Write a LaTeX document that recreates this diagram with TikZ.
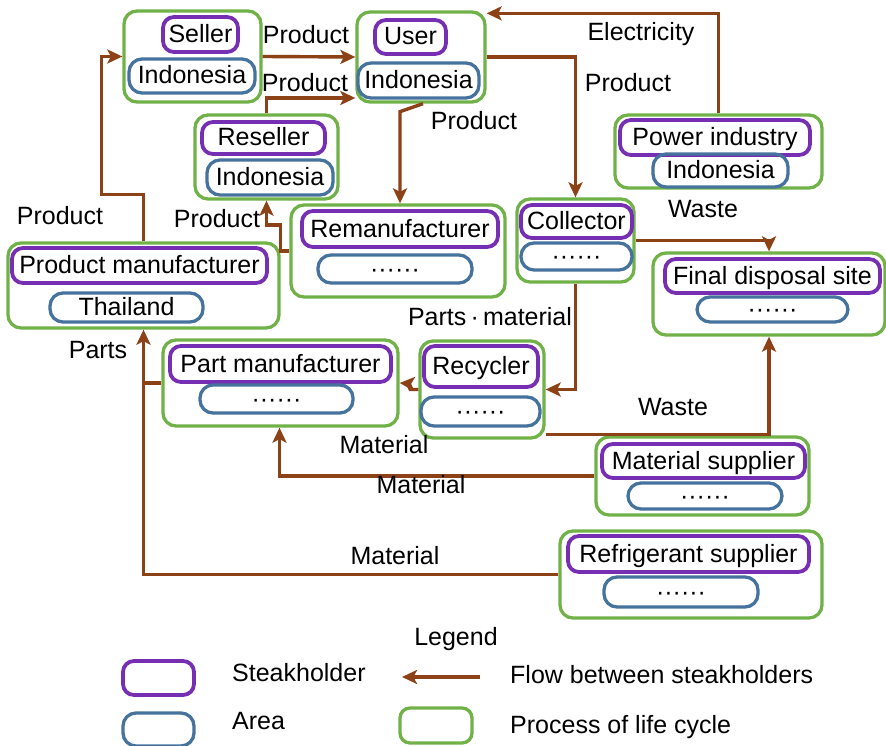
\documentclass[tikz,border=0pt]{standalone}
\usepackage{fontspec}
\setmainfont{Liberation Sans}
\usetikzlibrary{arrows.meta,calc}

\definecolor{procgreen}{RGB}{112,178,72}
\definecolor{stakepurple}{RGB}{118,46,178}
\definecolor{areablue}{RGB}{70,114,158}
\definecolor{flowbrown}{RGB}{140,66,22}

\newcommand\sixdots{\textperiodcentered\textperiodcentered\textperiodcentered\textperiodcentered\textperiodcentered\textperiodcentered}

\begin{document}
\begin{tikzpicture}[x=1pt,y=-1pt,
  every node/.style={font=\fontsize{25}{30}\selectfont},
  proc/.style={draw=procgreen,line width=3.3pt,rounded corners=13pt,inner sep=0pt},
  stake/.style={draw=stakepurple,line width=3.8pt,rounded corners=11pt,inner sep=0pt,text height=18pt,text depth=2pt},
  area/.style={draw=areablue,line width=3.3pt,rounded corners=13pt,inner sep=0pt,text height=18pt,text depth=2pt},
  flow/.style={draw=flowbrown,line width=3.4pt,-{Stealth[length=15pt,width=14pt,inset=3.5pt]}},
  flowline/.style={draw=flowbrown,line width=3.4pt},
  lbl/.style={inner sep=0pt,text height=18pt,text depth=2pt}
]
\useasboundingbox (0,0) rectangle (886,746);

% ---- life-cycle processes (green frames)
\node[proc,minimum width=137pt,minimum height=91pt] (seller)   at (192.5,56.5) {};
\node[proc,minimum width=128pt,minimum height=90pt] (user)     at (421,57) {};
\node[proc,minimum width=143pt,minimum height=84pt] (reseller) at (266.5,157) {};
\node[proc,minimum width=271pt,minimum height=85pt] (pm)       at (143.5,285.5) {};
\node[proc,minimum width=214pt,minimum height=92pt] (reman)    at (398,251) {};
\node[proc,minimum width=117pt,minimum height=83pt] (coll)     at (575.5,240.5) {};
\node[proc,minimum width=207pt,minimum height=73pt] (power)    at (718.5,151.5) {};
\node[proc,minimum width=232pt,minimum height=82pt] (final)    at (769,294) {};
\node[proc,minimum width=235pt,minimum height=86pt] (partm)    at (280.5,383) {};
\node[proc,minimum width=124pt,minimum height=97pt] (recyc)    at (482,389.5) {};
\node[proc,minimum width=213pt,minimum height=78pt] (matsup)   at (702.5,476) {};
\node[proc,minimum width=262pt,minimum height=87pt] (refsup)   at (691,574.5) {};

% ---- stakeholders (purple)
\node[stake,minimum width=75pt, minimum height=35pt] (sSeller)   at (200.5,34.5) {Seller};
\node[stake,minimum width=71pt, minimum height=34pt] (sUser)     at (410.5,37) {User};
\node[stake,minimum width=123pt,minimum height=32pt] (sReseller) at (263.5,138) {Reseller};
\node[stake,minimum width=255pt,minimum height=35pt] (sPm)       at (139.5,265.5) {Product manufacturer};
\node[stake,minimum width=196pt,minimum height=36pt] (sReman)    at (400,229) {Remanufacturer};
\node[stake,minimum width=111pt,minimum height=33pt] (sColl)     at (576.5,221.5) {Collector};
\node[stake,minimum width=190pt,minimum height=35pt] (sPower)    at (715,137.5) {Power industry};
\node[stake,minimum width=215pt,minimum height=34pt] (sFinal)    at (772.5,276) {Final disposal site};
\node[stake,minimum width=221pt,minimum height=36pt] (sPartm)    at (280.5,364) {Part manufacturer};
\node[stake,minimum width=114pt,minimum height=41pt] (sRecyc)    at (481,366.5) {Recycler};
\node[stake,minimum width=203pt,minimum height=34pt] (sMatsup)   at (703.5,461) {Material supplier};
\node[stake,minimum width=241pt,minimum height=36pt] (sRefsup)   at (688.5,554) {Refrigerant supplier};

% ---- areas (blue)
\node[area,minimum width=126pt,minimum height=34pt] (aSeller)   at (192,76) {Indonesia};
\node[area,minimum width=121pt,minimum height=35pt] (aUser)     at (418.5,80.5) {Indonesia};
\node[area,minimum width=126pt,minimum height=35pt] (aReseller) at (270,177.5) {Indonesia};
\node[area,minimum width=153pt,minimum height=29pt] (aPm)       at (126.5,307.5) {Thailand};
\node[area,minimum width=154pt,minimum height=28pt] (aReman)    at (395,269) {\sixdots};
\node[area,minimum width=111pt,minimum height=27pt] (aColl)     at (576.5,256.5) {\sixdots};
\node[area,minimum width=135pt,minimum height=33pt] (aPower)    at (720.5,170.5) {Indonesia};
\node[area,minimum width=151pt,minimum height=25pt] (aFinal)    at (772.5,309.5) {\sixdots};
\node[area,minimum width=153pt,minimum height=28pt] (aPartm)    at (276.5,399) {\sixdots};
\node[area,minimum width=119pt,minimum height=29pt] (aRecyc)    at (480.5,411.5) {\sixdots};
\node[area,minimum width=154pt,minimum height=26pt] (aMatsup)   at (705,496) {\sixdots};
\node[area,minimum width=154pt,minimum height=30pt] (aRefsup)   at (681,592) {\sixdots};

% ---- flows between stakeholders
\draw[flow] (pm.north) -- ++(0,-47) -| ([xshift=-21pt]seller.west) -- (seller.west);
\draw[flow] (seller.east) -- (user.west);
\draw[flow] (reseller.north) |- ([yshift=-41pt]user.west);
\draw[flow] (reman.west) -- ++(-9,0) -- ++(0,-26) -| (reseller.south);
\draw[flow] ([xshift=2pt]user.south) -- ++(-23,8) -- ([xshift=2pt]reman.north);
\draw[flow] (user.east) -| (coll.north);
\draw[flow] (power.north) |- ([yshift=-3pt]user.north east);
\draw[flow] (coll.east) -| (final.north);
\draw[flow] (coll.south) |- (recyc.east);
\draw[flow] (recyc.west) -- ++(-8,0) -- ++(-3,-6) -- (partm.east);
\draw[flow] ([yshift=5pt]recyc.south east) -| (final.south);
\draw[flow] (matsup.west) -| ([xshift=-1pt]partm.south);
\draw[flow] (refsup.west) -| (pm.south);
\draw[flowline] (partm.west) -- (pm.south |- partm.west);

% ---- flow labels
\node[lbl] (lPm)     at (60,217)  {Product};
\node[lbl] (lSell)   at (306,36)  {Product};
\node[lbl] (lResel)  at (305,84)  {Product};
\node[lbl] (lReman)  at (217,220) {Product};
\node[lbl] (lUser)   at (474,122) {Product};
\node[lbl] (lColl)   at (628,84)  {Product};
\node[lbl] (lElec)   at (641,33)  {Electricity};
\node[lbl] (lWaste1) at (703,210) {Waste};
\node[lbl] (lParts)  at (98,350)  {Parts};
\node[lbl] (lPmat)   at (490,317) {Parts\,\textperiodcentered\,material};
\node[lbl] (lMat1)   at (384,445) {Material};
\node[lbl] (lMat2)   at (421,485) {Material};
\node[lbl] (lWaste2) at (673,407) {Waste};
\node[lbl] (lMat3)   at (395,556) {Material};

% ---- legend
\node[lbl] (legTitle) at (456,637) {Legend};
\node[stake,minimum width=71pt,minimum height=34pt] (legStake) at (158.5,678) {};
\node[area,minimum width=71pt,minimum height=33pt]  (legArea)  at (158.5,729.5) {};
\node[proc,minimum width=72pt,minimum height=35pt,rounded corners=10pt] (legProc) at (436,725.5) {};
\coordinate (legFrom) at (480,677);
\coordinate (legTo)   at (402,677);
\draw[flow] (legFrom) -- (legTo);
\node[lbl,anchor=west] (legT1) at (232,673) {Steakholder};
\node[lbl,anchor=west] (legT2) at (510,675) {Flow between steakholders};
\node[lbl,anchor=west] (legT3) at (232,721) {Area};
\node[lbl,anchor=west] (legT4) at (510,725) {Process of life cycle};
\end{tikzpicture}
\end{document}
